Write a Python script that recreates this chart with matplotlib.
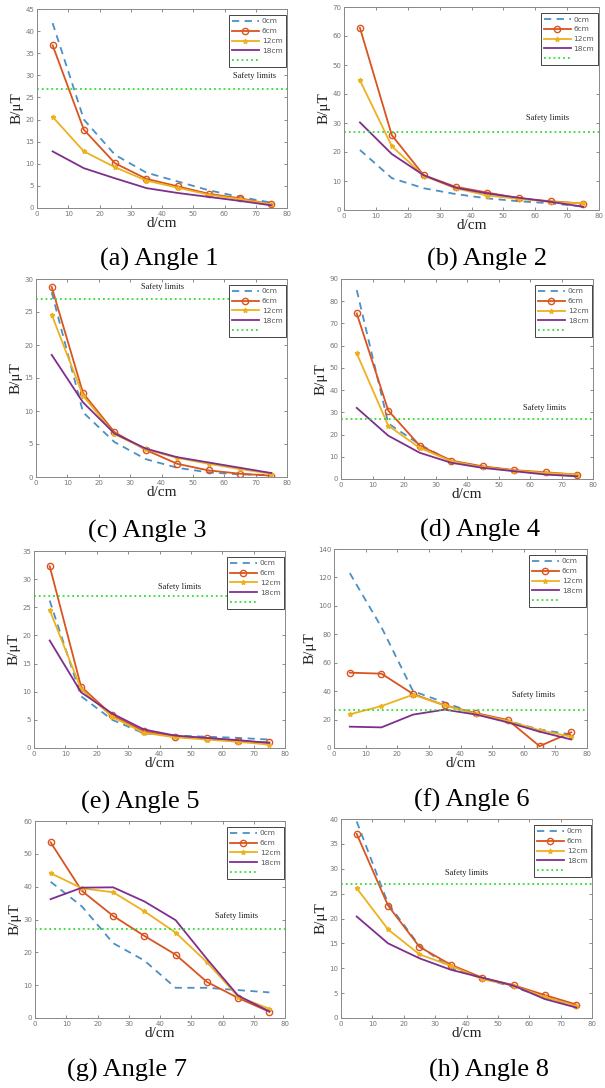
import numpy as np
import matplotlib.pyplot as plt

# distance from source (cm)
d = [5, 15, 25, 35, 45, 55, 65, 75]
labels = ['0cm', '6cm', '12cm', '18cm']
safety_limit = 27

# B field (uT) per angle, one list per height: 0cm, 6cm, 12cm, 18cm
angle1 = [[41.8, 20.0, 12.0, 8.0, 6.0, 4.0, 2.5, 1.2],
          [36.8, 17.7, 10.1, 6.6, 4.9, 3.2, 2.2, 0.8],
          [20.6, 12.8, 9.2, 6.2, 4.6, 3.0, 2.0, 0.8],
          [12.8, 9.0, 6.7, 4.5, 3.4, 2.5, 1.6, 0.6]]
angle2 = [[20.7, 11.0, 7.5, 5.5, 4.0, 3.0, 2.3, 1.2],
          [62.8, 25.8, 12.0, 8.0, 6.0, 4.0, 3.0, 2.2],
          [44.7, 22.0, 11.8, 7.5, 5.0, 3.8, 2.8, 2.3],
          [30.2, 19.3, 12.0, 7.7, 5.7, 4.2, 2.8, 1.1]]
angle3 = [[28.0, 9.8, 5.3, 2.7, 1.4, 0.7, 0.4, 0.3],
          [28.8, 12.7, 6.8, 4.1, 2.0, 1.0, 0.5, 0.2],
          [24.6, 12.3, 6.5, 4.2, 2.9, 2.0, 1.2, 0.5],
          [18.5, 11.3, 6.6, 4.3, 3.0, 2.2, 1.4, 0.6]]
angle4 = [[85.0, 25.0, 15.5, 8.0, 5.5, 3.8, 2.5, 1.3],
          [74.5, 30.8, 15.0, 8.3, 5.7, 4.0, 3.0, 2.0],
          [56.5, 24.0, 14.0, 8.0, 5.3, 3.8, 2.7, 2.0],
          [32.0, 19.5, 11.8, 7.3, 5.0, 3.5, 2.0, 1.2]]
angle5 = [[26.2, 9.2, 5.0, 2.6, 2.2, 2.0, 1.8, 1.5],
          [32.3, 10.9, 5.8, 3.0, 2.0, 1.7, 1.2, 1.0],
          [24.5, 10.5, 5.5, 2.7, 1.9, 1.5, 1.1, 0.6],
          [19.1, 9.9, 6.1, 3.3, 2.2, 1.8, 1.4, 0.9]]
angle6 = [[123.0, 85.0, 40.0, 32.0, 24.0, 19.0, 13.0, 9.5],
          [53.0, 52.3, 38.0, 30.0, 24.5, 19.7, 1.3, 11.0],
          [23.7, 29.5, 37.5, 30.0, 24.0, 19.0, 12.5, 8.0],
          [15.0, 14.5, 23.5, 27.0, 23.5, 18.0, 11.5, 6.0]]
angle7 = [[41.5, 34.0, 22.8, 17.5, 9.2, 9.2, 8.5, 7.8],
          [53.5, 38.7, 31.1, 25.0, 19.3, 11.0, 6.1, 1.9],
          [44.1, 39.5, 38.3, 32.5, 26.0, 17.0, 6.5, 2.8],
          [36.2, 39.7, 39.8, 35.5, 29.8, 18.0, 6.8, 2.0]]
angle8 = [[39.5, 23.0, 14.5, 10.0, 8.0, 6.2, 4.2, 2.4],
          [37.0, 22.6, 14.3, 10.7, 8.1, 6.6, 4.6, 2.7],
          [26.1, 17.8, 12.8, 10.5, 7.8, 6.5, 4.2, 2.4],
          [20.4, 15.0, 12.0, 9.7, 8.1, 6.5, 3.8, 2.1]]

captions = ['(a) Angle 1', '(b) Angle 2', '(c) Angle 3', '(d) Angle 4',
            '(e) Angle 5', '(f) Angle 6', '(g) Angle 7', '(h) Angle 8']
ymax = [45, 70, 30, 90, 35, 140, 60, 40]
ystep = [5, 10, 5, 10, 5, 20, 10, 5]
# where the "Safety limits" note sits (data coords)
note_xy = [(69.7, 29.0), (64, 30.4), (40.3, 28.2), (64.7, 30.1),
           (46.5, 27.9), (63, 34.2), (64.5, 29.7), (40.1, 28.3)]

W, H = 605, 1088
# axes boxes in pixels: left, right, top, bottom
boxes = [(37, 287, 9, 208), (344, 599, 7, 210),
         (36, 287, 279, 477), (341, 593, 279, 479),
         (34, 285, 551, 748), (334, 587, 549, 748),
         (35, 285, 821, 1018), (341, 592, 819, 1018)]
cap_pos = [(159, 259), (487, 259), (147, 531), (480, 530),
           (140, 802), (472, 800), (127, 1070), (489, 1070)]

colors = ['#4a90c4', '#d9541e', '#edb120', '#7e2f8e']
serif = ['Liberation Serif', 'DejaVu Serif']

fig = plt.figure(figsize=(W / 100, H / 100), dpi=100)

all_data = [angle1, angle2, angle3, angle4, angle5, angle6, angle7, angle8]
for i, data in enumerate(all_data):
    l, r, t, b = boxes[i]
    ax = fig.add_axes([l / W, 1 - b / H, (r - l) / W, (b - t) / H])
    ax.plot(d, data[0], '--', color=colors[0], lw=1.3, dashes=(4, 3), label=labels[0])
    ax.plot(d, data[1], '-', color=colors[1], lw=1.3, marker='o', ms=4.5,
            mfc='none', mew=1.0, label=labels[1])
    ax.plot(d, data[2], '-', color=colors[2], lw=1.3, marker='*', ms=3.5, label=labels[2])
    ax.plot(d, data[3], '-', color=colors[3], lw=1.3, label=labels[3])
    ax.axhline(safety_limit, color='#33dd33', ls=':', lw=1.3, label=' ')
    nx, ny = note_xy[i]
    ax.text(nx, ny, 'Safety limits', fontsize=6, family=serif, ha='center', va='bottom',
            color='#222222')

    ax.set_xlim(0, 80)
    ax.set_ylim(0, ymax[i])
    ax.set_xticks(np.arange(0, 81, 10))
    ax.set_yticks(np.arange(0, ymax[i] + 1, ystep[i]))
    ax.tick_params(direction='in', length=2.5, width=0.6, labelsize=5,
                   colors='#777777', top=True, right=True, pad=2)
    for s in ax.spines.values():
        s.set_color('#888888')
        s.set_linewidth(0.7)
    ax.set_xlabel('d/cm', fontsize=11, family=serif, labelpad=0, color='#222222')
    ax.set_ylabel('B/\u03bcT', fontsize=11, family=serif, labelpad=1, color='#222222')

    leg = ax.legend(loc='upper right', bbox_to_anchor=(0.995, 0.97), fontsize=5.3,
                    handlelength=3.6, borderaxespad=0.0, labelspacing=0.5,
                    borderpad=0.45, handletextpad=0.4, fancybox=False, framealpha=1)
    leg.get_frame().set_edgecolor('#444444')
    leg.get_frame().set_linewidth(0.7)
    for txt in leg.get_texts():
        txt.set_color('#555555')

    cx, cy = cap_pos[i]
    fig.text(cx / W, 1 - cy / H, captions[i], fontsize=19, family=serif,
             ha='center', va='center')

fig.savefig('out.png', dpi=100)
